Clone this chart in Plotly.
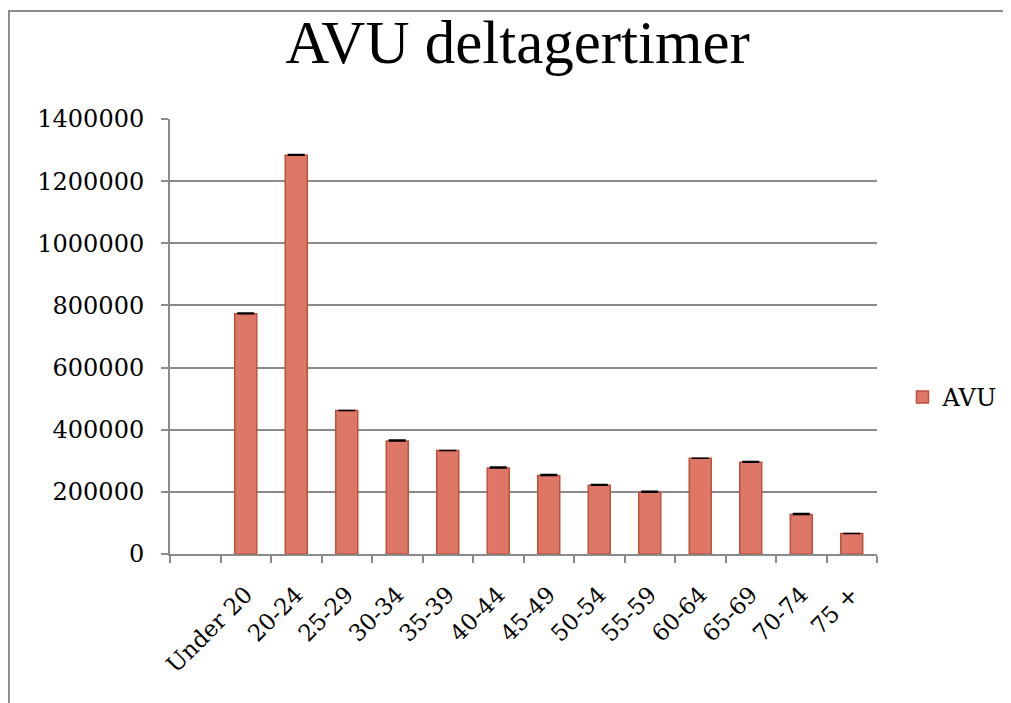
import plotly.graph_objects as go

# Excel-style column chart: first category slot is empty in the source sheet
age_groups = [" ", "Under 20", "20-24", "25-29", "30-34", "35-39", "40-44",
              "45-49", "50-54", "55-59", "60-64", "65-69", "70-74", "75 +"]
avu_hours = [None, 773000, 1283000, 462000, 364000, 333000, 277000,
             253000, 221000, 199000, 308000, 295000, 127000, 66000]
# small black caps drawn on top of some bars in the original
cap_err = [None, 3000, 3000, None, 3000, None, 3000,
           3000, 3000, 3000, None, 3000, 3000, None]

SERIF = "DejaVu Serif"
GRID = "#8a8a8a"

# page has an 8px body margin, so layout is shifted up/left by 8px
L, T, PW, PH = 162, 111, 707, 435

fig = go.Figure()
fig.add_trace(go.Bar(
    x=age_groups,
    y=avu_hours,
    name="AVU",
    marker=dict(color="#DE7765", line=dict(color="#BE503C", width=1.5)),
    error_y=dict(type="data", symmetric=False, array=cap_err,
                 arrayminus=[0] * len(cap_err),
                 color="black", thickness=1.5, width=8.5),
))

fig.update_layout(
    width=1011,
    height=703,
    title=dict(text="AVU deltagertimer",
               font=dict(family="Liberation Serif", size=61, color="black"),
               x=509.5 / 1011, xanchor="center",
               y=1 - 12 / 703, yanchor="top"),
    paper_bgcolor="white",
    plot_bgcolor="white",
    margin=dict(l=L, r=1011 - L - PW, t=T, b=703 - T - PH),
    bargap=0.565,
    showlegend=True,
    legend=dict(x=1.036, xanchor="left", y=0.36, yanchor="middle",
                font=dict(family=SERIF, size=24, color="black"),
                bgcolor="rgba(0,0,0,0)"),
    font=dict(family=SERIF, color="black"),
)

fig.update_xaxes(
    type="category",
    categoryorder="array",
    categoryarray=age_groups,
    tickson="boundaries",
    ticks="outside",
    ticklen=7,
    tickcolor=GRID,
    tickwidth=1.5,
    tickangle=-45,
    ticklabelstandoff=16,
    tickfont=dict(family=SERIF, size=23, color="black"),
    showline=True,
    linecolor=GRID,
    linewidth=2,
    showgrid=False,
)

fig.update_yaxes(
    range=[0, 1400000],
    tickvals=[0, 200000, 400000, 600000, 800000, 1000000, 1200000, 1400000],
    ticktext=["0", "200000", "400000", "600000", "800000", "1000000",
              "1200000", "1400000"],
    ticks="outside",
    ticklen=7,
    tickcolor=GRID,
    tickwidth=1.5,
    ticklabelstandoff=12,
    tickfont=dict(family=SERIF, size=24, color="black"),
    showline=True,
    linecolor=GRID,
    linewidth=2,
    showgrid=True,
    gridcolor=GRID,
    gridwidth=1.8,
    zeroline=False,
)

# grey chart-area frame, cut off at the right and bottom like the screenshot
fig.add_shape(type="rect", xref="paper", yref="paper",
              x0=(0.8 - L) / PW, x1=(1030 - L) / PW,
              y0=(T + PH - 720) / PH, y1=(T + PH - 3) / PH,
              line=dict(color="#8a8a8a", width=2.2), fillcolor="rgba(0,0,0,0)",
              layer="below")

fig.write_html("out.html")
